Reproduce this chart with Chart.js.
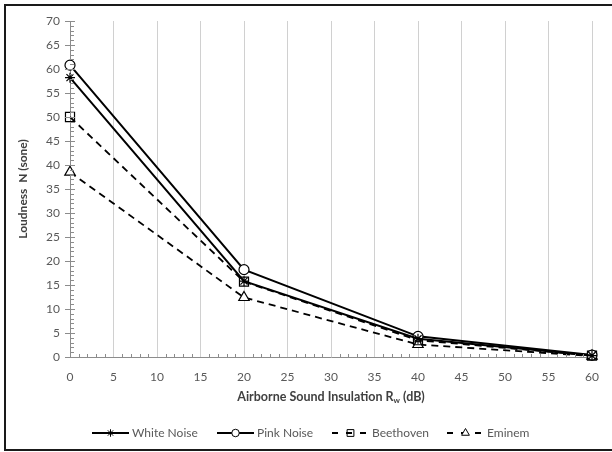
<!DOCTYPE html>
<html>
<head>
<meta charset="utf-8">
<script src="https://cdn.jsdelivr.net/npm/chart.js@4"></script>
<style>
  body { margin: 0; background: #fff; }
  #chart { display: block; }
</style>
</head>
<body>
<canvas id="chart" width="612" height="452"></canvas>
<script>
// loudness (sone) against airborne sound insulation Rw (dB)
const insulation = [0, 20, 40, 60];
const whiteNoise = [58.2, 15.8, 3.8, 0.3];
const pinkNoise = [60.8, 18.2, 4.3, 0.4];
const beethoven = [50.0, 15.7, 3.5, 0.3];
const eminem = [38.5, 12.4, 2.6, 0.2];

const FONT = "Lato, 'Open Sans', sans-serif";
const GREY = "#595959";

function points(values) {
  return values.map((v, i) => ({ x: insulation[i], y: v }));
}

const data = {
  datasets: [
    {
      label: "White Noise",
      data: points(whiteNoise),
      borderColor: "#000",
      borderWidth: 2,
      pointStyle: "star",
      pointRadius: 5,
      pointBorderWidth: 1.2,
      pointBorderColor: "#000",
      pointBackgroundColor: "#fff",
      clip: false,
    },
    {
      label: "Pink Noise",
      data: points(pinkNoise),
      borderColor: "#000",
      borderWidth: 2,
      pointStyle: "circle",
      pointRadius: 5,
      pointBorderWidth: 1.2,
      pointBorderColor: "#000",
      pointBackgroundColor: "#fff",
      clip: false,
    },
    {
      label: "Beethoven",
      data: points(beethoven),
      borderColor: "#000",
      borderWidth: 1.8,
      borderDash: [7, 5],
      pointStyle: "rect",
      pointRadius: 6.4,
      pointBorderWidth: 1.2,
      pointBorderColor: "#000",
      pointBackgroundColor: "rgba(255,255,255,0)",
      clip: false,
    },
    {
      label: "Eminem",
      data: points(eminem),
      borderColor: "#000",
      borderWidth: 1.8,
      borderDash: [7, 5],
      pointStyle: "triangle",
      pointRadius: 6,
      pointBorderWidth: 1.2,
      pointBorderColor: "#000",
      pointBackgroundColor: "#fff",
      clip: false,
    },
  ],
};

// frame, axis ticks, x title with subscript and the legend
const extras = {
  id: "extras",
  beforeDraw(chart) {
    const { ctx } = chart;
    ctx.save();
    ctx.fillStyle = "#fff";
    ctx.fillRect(0, 0, chart.width, chart.height);
    ctx.strokeStyle = "#1a1a1a";
    ctx.lineWidth = 2;
    ctx.strokeRect(5, 5, 640, 445);
    ctx.restore();
  },
  afterDraw(chart) {
    const { ctx, chartArea: area, scales: { x, y } } = chart;
    ctx.save();
    ctx.strokeStyle = "#8c8c8c";
    ctx.lineWidth = 1;
    ctx.beginPath();
    for (let v = 0; v <= 70; v++) {
      const py = Math.round(y.getPixelForValue(v)) + 0.5;
      if (v % 5 === 0) {
        ctx.moveTo(area.left - 5, py);
        ctx.lineTo(area.left + 5, py);
      } else {
        ctx.moveTo(area.left, py);
        ctx.lineTo(area.left + 4, py);
      }
    }
    for (let v = 1; v <= 60; v++) {
      if (v % 5 === 0) continue;
      const px = Math.round(x.getPixelForValue(v)) + 0.5;
      ctx.moveTo(px, area.bottom);
      ctx.lineTo(px, area.bottom - 3);
    }
    ctx.stroke();

    // x axis title
    const main = "Airborne Sound Insulation R";
    const sub = "w";
    const tail = " (dB)";
    ctx.fillStyle = "#404040";
    ctx.textBaseline = "middle";
    ctx.font = "bold 12.5px " + FONT;
    const w1 = ctx.measureText(main).width;
    const w3 = ctx.measureText(tail).width;
    ctx.font = "bold 8px " + FONT;
    const w2 = ctx.measureText(sub).width;
    const tx = (area.left + area.right) / 2 - (w1 + w2 + w3) / 2;
    const ty = 397;
    ctx.textAlign = "left";
    ctx.font = "bold 12.5px " + FONT;
    ctx.fillText(main, tx, ty);
    ctx.font = "bold 8px " + FONT;
    ctx.fillText(sub, tx + w1, ty + 3);
    ctx.font = "bold 12.5px " + FONT;
    ctx.fillText(tail, tx + w1 + w2, ty);

    // legend
    const starts = [92, 217, 332, 447];
    const ly = 433;
    chart.data.datasets.forEach((ds, i) => {
      const lx = starts[i];
      ctx.strokeStyle = "#000";
      ctx.lineWidth = ds.borderWidth;
      ctx.setLineDash(ds.borderDash ? [6, 8] : []);
      ctx.beginPath();
      ctx.moveTo(lx, ly);
      ctx.lineTo(lx + 37, ly);
      ctx.stroke();
      ctx.setLineDash([]);
      ctx.fillStyle = ds.pointBackgroundColor;
      ctx.lineWidth = 1;
      Chart.helpers.drawPoint(ctx, {
        pointStyle: ds.pointStyle,
        radius: ds.pointRadius * 0.75,
        borderWidth: 1,
        rotation: 0,
      }, lx + 18.5, ly);
      ctx.fillStyle = GREY;
      ctx.font = "12px " + FONT;
      ctx.textAlign = "left";
      ctx.fillText(ds.label, lx + 40, ly);
    });
    ctx.restore();
  },
};

new Chart(document.getElementById("chart"), {
  type: "line",
  data,
  plugins: [extras],
  options: {
    responsive: false,
    animation: false,
    layout: { padding: { left: 12, right: 20, top: 21, bottom: 0 } },
    plugins: {
      legend: { display: false },
      tooltip: { enabled: false },
    },
    scales: {
      x: {
        type: "linear",
        min: 0,
        max: 60,
        ticks: { stepSize: 5, color: GREY, font: { family: FONT, size: 12 }, padding: 13, maxRotation: 0 },
        grid: { color: "#d0d0d0", lineWidth: 1, drawTicks: false },
        border: { color: "#8c8c8c", width: 1 },
        afterFit(scale) { scale.height = 95; },
      },
      y: {
        min: 0,
        max: 70,
        ticks: { stepSize: 5, color: GREY, font: { family: FONT, size: 12 }, padding: 10 },
        grid: { display: false, drawTicks: false },
        border: { color: "#8c8c8c", width: 1 },
        title: {
          display: true,
          text: "Loudness  N (sone)",
          color: "#404040",
          font: { family: FONT, size: 12, weight: "bold" },
          padding: { top: 4, bottom: 0 },
        },
        afterFit(scale) { scale.width = 58; },
      },
    },
  },
});
</script>
</body>
</html>
